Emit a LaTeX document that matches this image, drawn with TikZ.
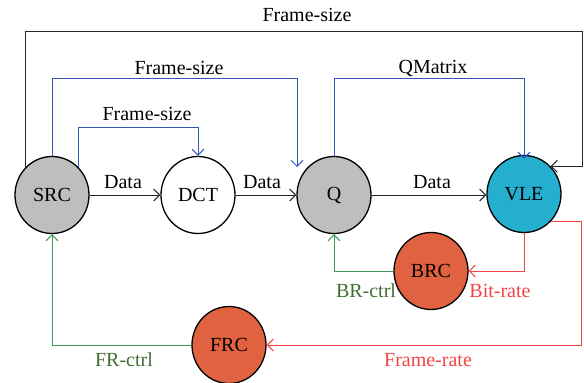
\documentclass[tikz,border=0pt]{standalone}
\usepackage{fontspec}
\setmainfont{Liberation Serif}
\usetikzlibrary{shapes.geometric,arrows.meta}
\definecolor{gfill}{HTML}{BEBEBE}
\definecolor{vfill}{HTML}{25AFCF}
\definecolor{ofill}{HTML}{E06240}
\definecolor{bline}{HTML}{3355BB}
\definecolor{rline}{HTML}{F24444}
\definecolor{gline}{HTML}{3E9A55}
\definecolor{gtext}{HTML}{3F6E32}
\tikzset{
  blk/.style={ellipse, draw=black, line width=1.3pt, minimum width=74pt, minimum height=77pt, inner sep=0pt, font=\fontsize{20}{23}\selectfont},
  lbl/.style={font=\fontsize{20}{23}\selectfont, inner sep=0pt},
  conn/.style={line width=1pt, -{Straight Barb[length=6pt,width=12pt]}},
}
\begin{document}
\begin{tikzpicture}[x=1pt,y=-1pt]
\useasboundingbox (0,0) rectangle (584,383);
\node[blk, fill=gfill] (SRC) at (52,195) {SRC};
\node[blk, fill=white] (DCT) at (198,195) {DCT};
\node[blk, fill=gfill] (Q) at (334,195) {Q};
\node[blk, fill=vfill] (VLE) at (524,194) {VLE};
\node[blk, fill=ofill] (BRC) at (431,271) {BRC};
\node[blk, fill=ofill] (FRC) at (229,345) {FRC};

% data path
\draw[conn, black!85] (SRC.east) -- (DCT.west);
\draw[conn, black!85] (DCT.east) -- (Q.west);
\draw[conn, black!85] (Q.east) -- (Q.east -| VLE.west);
\node[lbl] (d1) at (123,182) {Data};
\node[lbl] (d2) at (262,182) {Data};
\node[lbl] (d3) at (432,182) {Data};

% top black feedback
\coordinate (tr) at (582,31);
\draw[conn, black!85] (SRC.north west) |- (tr) |- (VLE.north east);
\node[lbl] (fs1) at (307,15) {Frame-size};

% blue
\coordinate (qa) at (297,167);
\draw[conn, bline] (SRC.north) -- ++(0,-77) -| (qa);
\node[lbl] (fs2) at (179,68) {Frame-size};
\draw[conn, bline] (SRC.north east) -- ++(0,-40) -| (DCT.north);
\node[lbl] (fs3) at (147,114) {Frame-size};
\draw[conn, bline] (Q.north) -- ++(0,-77) -| ([yshift=-4]VLE.north);
\node[lbl] (qm) at (433,68) {QMatrix};

% red
\draw[conn, rline] (VLE.south) |- (BRC.east);
\draw[conn, rline] (VLE.south east) -- ++(31,0) |- (FRC.east);
\node[lbl, text=rline] (br) at (500,291) {Bit-rate};
\node[lbl, text=rline] (fr) at (428,360) {Frame-rate};

% green
\draw[conn, gline] (BRC.west) -| (Q.south);
\draw[conn, gline] (FRC.west) -| (SRC.south);
\node[lbl, text=gtext] (bc) at (366,291) {BR-ctrl};
\node[lbl, text=gtext] (fc) at (124,360) {FR-ctrl};
\end{tikzpicture}
\end{document}
